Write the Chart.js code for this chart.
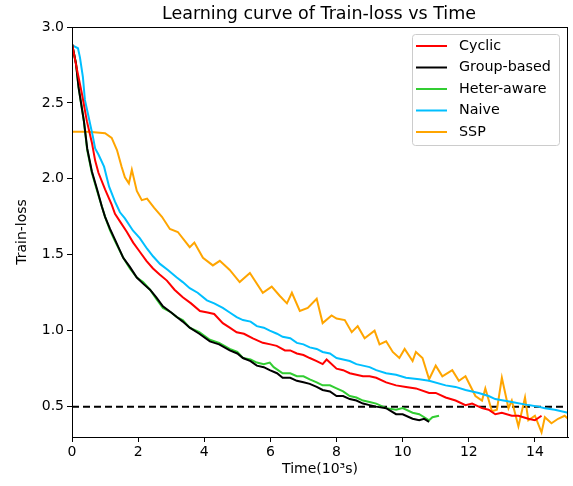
<!DOCTYPE html>
<html>
<head>
<meta charset="utf-8">
<script src="https://cdn.jsdelivr.net/npm/chart.js@4"></script>
<style>
  html, body { margin: 0; padding: 0; background: #fff; }
  canvas { display: block; }
</style>
</head>
<body>
<canvas id="chart" width="573" height="486"></canvas>
<script>
// (time in 10^3 s, train-loss)
const cyclicTime = [0, 0.15, 0.3, 0.45, 0.6, 0.7, 0.8, 1.0, 1.2, 1.3, 1.45, 1.66, 1.85, 2.05, 2.25, 2.45, 2.65, 2.87, 3.1, 3.35, 3.6, 3.87, 4.1, 4.3, 4.56, 4.77, 4.98, 5.2, 5.47, 5.77, 6.0, 6.19, 6.44, 6.6, 6.8, 7.0, 7.19, 7.4, 7.58, 7.7, 8.0, 8.2, 8.4, 8.6, 8.8, 9.0, 9.2, 9.5, 9.8, 10.1, 10.4, 10.8, 11.0, 11.3, 11.6, 11.9, 12.1, 12.4, 12.6, 12.8, 13.0, 13.3, 13.5, 13.8, 14.0, 14.2];
const cyclicLoss = [2.89, 2.72, 2.56, 2.38, 2.24, 2.12, 2.04, 1.93, 1.83, 1.77, 1.72, 1.65, 1.58, 1.52, 1.46, 1.41, 1.37, 1.33, 1.27, 1.22, 1.18, 1.13, 1.12, 1.11, 1.05, 1.02, 0.99, 0.98, 0.95, 0.92, 0.91, 0.90, 0.87, 0.87, 0.85, 0.84, 0.82, 0.80, 0.78, 0.81, 0.75, 0.74, 0.72, 0.71, 0.70, 0.70, 0.69, 0.66, 0.64, 0.63, 0.62, 0.59, 0.59, 0.56, 0.54, 0.51, 0.52, 0.49, 0.48, 0.45, 0.46, 0.44, 0.44, 0.42, 0.41, 0.44];

const groupTime = [0, 0.12, 0.2, 0.36, 0.46, 0.6, 0.76, 0.9, 1.0, 1.15, 1.3, 1.55, 1.75, 1.96, 2.15, 2.36, 2.55, 2.75, 3.0, 3.17, 3.35, 3.56, 3.85, 4.17, 4.45, 4.77, 5.0, 5.17, 5.4, 5.59, 5.8, 5.98, 6.2, 6.37, 6.6, 6.8, 7.0, 7.19, 7.4, 7.58, 7.8, 8.0, 8.2, 8.4, 8.6, 8.8, 9.0, 9.2, 9.5, 9.8, 10.0, 10.3, 10.5, 10.65, 10.8];
const groupLoss = [2.89, 2.76, 2.60, 2.38, 2.20, 2.05, 1.93, 1.82, 1.75, 1.67, 1.60, 1.48, 1.42, 1.35, 1.31, 1.27, 1.22, 1.16, 1.12, 1.09, 1.06, 1.02, 0.98, 0.93, 0.91, 0.87, 0.85, 0.82, 0.80, 0.77, 0.76, 0.74, 0.72, 0.69, 0.69, 0.67, 0.66, 0.65, 0.63, 0.61, 0.60, 0.57, 0.57, 0.55, 0.54, 0.52, 0.51, 0.50, 0.49, 0.45, 0.45, 0.42, 0.41, 0.42, 0.40];

const heterTime = [0, 0.12, 0.2, 0.36, 0.46, 0.6, 0.76, 0.9, 1.0, 1.15, 1.3, 1.55, 1.75, 1.96, 2.15, 2.36, 2.55, 2.75, 3.0, 3.17, 3.35, 3.56, 3.85, 4.17, 4.45, 4.77, 5.0, 5.17, 5.4, 5.59, 5.8, 5.98, 6.1, 6.37, 6.6, 6.8, 7.0, 7.19, 7.4, 7.58, 7.8, 8.0, 8.2, 8.4, 8.6, 8.8, 9.0, 9.2, 9.5, 9.8, 10.0, 10.3, 10.5, 10.8, 10.9, 11.1];
const heterLoss = [2.89, 2.76, 2.60, 2.38, 2.19, 2.04, 1.92, 1.82, 1.75, 1.66, 1.59, 1.48, 1.41, 1.35, 1.32, 1.27, 1.21, 1.15, 1.12, 1.09, 1.07, 1.02, 0.99, 0.94, 0.92, 0.88, 0.86, 0.82, 0.81, 0.79, 0.78, 0.79, 0.76, 0.72, 0.72, 0.70, 0.70, 0.68, 0.66, 0.64, 0.64, 0.62, 0.60, 0.57, 0.56, 0.54, 0.53, 0.52, 0.49, 0.48, 0.49, 0.46, 0.45, 0.41, 0.43, 0.44];

const naiveTime = [0, 0.18, 0.24, 0.33, 0.39, 0.48, 0.54, 0.63, 0.7, 0.8, 0.97, 1.12, 1.3, 1.45, 1.6, 1.84, 2.05, 2.27, 2.45, 2.66, 2.9, 3.17, 3.35, 3.56, 3.8, 4.08, 4.3, 4.56, 4.77, 4.98, 5.17, 5.4, 5.59, 5.8, 5.98, 6.2, 6.37, 6.6, 6.8, 7.0, 7.19, 7.4, 7.58, 7.8, 8.0, 8.2, 8.4, 8.6, 8.8, 9.0, 9.2, 9.5, 9.8, 10.1, 10.5, 10.8, 11.3, 11.6, 11.9, 12.3, 12.6, 12.8, 13.3, 13.8, 14.1, 14.3, 14.6, 15.0];
const naiveLoss = [2.88, 2.86, 2.80, 2.67, 2.52, 2.43, 2.37, 2.28, 2.20, 2.16, 2.08, 1.95, 1.85, 1.78, 1.74, 1.66, 1.61, 1.54, 1.49, 1.44, 1.40, 1.35, 1.32, 1.28, 1.25, 1.20, 1.18, 1.15, 1.12, 1.09, 1.07, 1.06, 1.03, 1.02, 1.00, 0.98, 0.96, 0.95, 0.92, 0.91, 0.89, 0.88, 0.86, 0.85, 0.82, 0.81, 0.80, 0.78, 0.77, 0.76, 0.74, 0.72, 0.71, 0.69, 0.68, 0.67, 0.64, 0.63, 0.61, 0.59, 0.57, 0.55, 0.53, 0.51, 0.50, 0.49, 0.48, 0.46];

const sspTime = [0, 0.5, 1.0, 1.2, 1.36, 1.5, 1.6, 1.72, 1.81, 1.96, 2.11, 2.27, 2.48, 2.72, 2.96, 3.2, 3.56, 3.7, 3.96, 4.26, 4.47, 4.77, 5.07, 5.38, 5.77, 6.04, 6.28, 6.5, 6.65, 6.89, 7.13, 7.4, 7.58, 7.85, 8.0, 8.25, 8.46, 8.64, 8.85, 9.15, 9.3, 9.5, 9.7, 9.9, 10.06, 10.3, 10.4, 10.6, 10.8, 11.0, 11.2, 11.5, 11.7, 11.9, 12.2, 12.4, 12.5, 12.7, 12.85, 13.0, 13.2, 13.3, 13.5, 13.7, 13.8, 14.0, 14.2, 14.3, 14.5, 14.7, 14.9, 15.0];
const sspLoss = [2.31, 2.31, 2.30, 2.27, 2.19, 2.08, 2.01, 1.97, 2.06, 1.92, 1.86, 1.87, 1.81, 1.75, 1.67, 1.65, 1.55, 1.58, 1.48, 1.43, 1.46, 1.40, 1.32, 1.38, 1.25, 1.29, 1.23, 1.18, 1.25, 1.13, 1.15, 1.21, 1.05, 1.10, 1.08, 1.07, 0.99, 1.03, 0.95, 1.00, 0.91, 0.93, 0.86, 0.82, 0.88, 0.80, 0.86, 0.82, 0.68, 0.77, 0.70, 0.74, 0.67, 0.70, 0.57, 0.54, 0.62, 0.47, 0.48, 0.69, 0.49, 0.54, 0.37, 0.56, 0.41, 0.44, 0.33, 0.43, 0.39, 0.42, 0.44, 0.42];

const targetLoss = 0.5;
const xTicks = [0, 2, 4, 6, 8, 10, 12, 14];
const yTicks = [0.5, 1.0, 1.5, 2.0, 2.5, 3.0];

const seriesNames = ['Cyclic', 'Group-based', 'Heter-aware', 'Naive', 'SSP'];
const seriesColors = ['#ff0000', '#000000', '#32cd32', '#00bfff', '#ffa500'];
const seriesTimes = [cyclicTime, groupTime, heterTime, naiveTime, sspTime];
const seriesLosses = [cyclicLoss, groupLoss, heterLoss, naiveLoss, sspLoss];

const FONT = 'DejaVu Sans';

function toPoints(ts, vs) {
  return ts.map((t, i) => ({ x: t, y: vs[i] }));
}

const datasets = seriesNames.map((name, i) => ({
  label: name,
  data: toPoints(seriesTimes[i], seriesLosses[i]),
  borderColor: seriesColors[i],
  borderWidth: 2,
  pointRadius: 0,
  tension: 0,
  fill: false
}));

datasets.push({
  label: 'target',
  data: [{ x: 0, y: targetLoss }, { x: 15, y: targetLoss }],
  borderColor: '#000',
  borderWidth: 2,
  borderDash: [7, 4],
  pointRadius: 0,
  fill: false
});

// frame, title and an in-plot legend like matplotlib
const extras = {
  id: 'extras',
  afterDraw(chart) {
    const { ctx, chartArea: a } = chart;
    ctx.save();
    ctx.strokeStyle = '#000';
    ctx.lineWidth = 1;
    ctx.strokeRect(a.left + 0.5, a.top + 0.5, a.right - a.left - 1, a.bottom - a.top);

    ctx.fillStyle = '#000';
    ctx.font = '17.5px "' + FONT + '"';
    ctx.textAlign = 'center';
    ctx.textBaseline = 'alphabetic';
    ctx.fillText('Learning curve of Train-loss vs Time', (a.left + a.right) / 2 - 1, 19);

    // legend box
    const bx = 412, by = 34, bw = 147, bh = 111;
    ctx.fillStyle = 'rgba(255,255,255,0.8)';
    ctx.strokeStyle = '#cccccc';
    ctx.beginPath();
    ctx.roundRect(bx + 0.5, by + 0.5, bw, bh, 3);
    ctx.fill();
    ctx.stroke();
    ctx.font = '14.3px "' + FONT + '"';
    ctx.textAlign = 'left';
    ctx.textBaseline = 'middle';
    seriesNames.forEach((name, i) => {
      const y = 46 + i * 21.5;
      ctx.strokeStyle = seriesColors[i];
      ctx.lineWidth = 2;
      ctx.beginPath();
      ctx.moveTo(416, y);
      ctx.lineTo(447, y);
      ctx.stroke();
      ctx.fillStyle = '#000';
      ctx.fillText(name, 459, y);
    });
    ctx.restore();
  }
};

new Chart(document.getElementById('chart'), {
  type: 'line',
  data: { datasets },
  options: {
    responsive: false,
    animation: false,
    layout: { padding: { top: 27, right: 5, left: 0, bottom: 0 } },
    plugins: { legend: { display: false }, title: { display: false }, tooltip: { enabled: false } },
    scales: {
      x: {
        type: 'linear',
        min: 0,
        max: 15,
        afterBuildTicks: s => { s.ticks = xTicks.map(v => ({ value: v })); },
        afterFit: s => { s.height = 49; },
        grid: { drawOnChartArea: false, drawTicks: true, tickLength: 5, color: '#000' },
        border: { display: true, color: '#000', width: 1 },
        ticks: { color: '#000', font: { family: FONT, size: 14 }, padding: 2, maxRotation: 0 },
        title: { display: true, text: 'Time(10³s)', color: '#000', font: { family: FONT, size: 14 }, padding: { top: 0, bottom: 8 } }
      },
      y: {
        type: 'linear',
        min: 0.3,
        max: 3.0,
        afterBuildTicks: s => { s.ticks = yTicks.map(v => ({ value: v })); },
        afterFit: s => { s.width = 72; },
        grid: { drawOnChartArea: false, drawTicks: true, tickLength: 5, color: '#000' },
        border: { display: true, color: '#000', width: 1 },
        ticks: { color: '#000', font: { family: FONT, size: 14 }, padding: 3, callback: v => v.toFixed(1) },
        title: { display: true, text: 'Train-loss', color: '#000', font: { family: FONT, size: 14 }, padding: { top: 14, bottom: 0 } }
      }
    }
  },
  plugins: [extras]
});
</script>
</body>
</html>
